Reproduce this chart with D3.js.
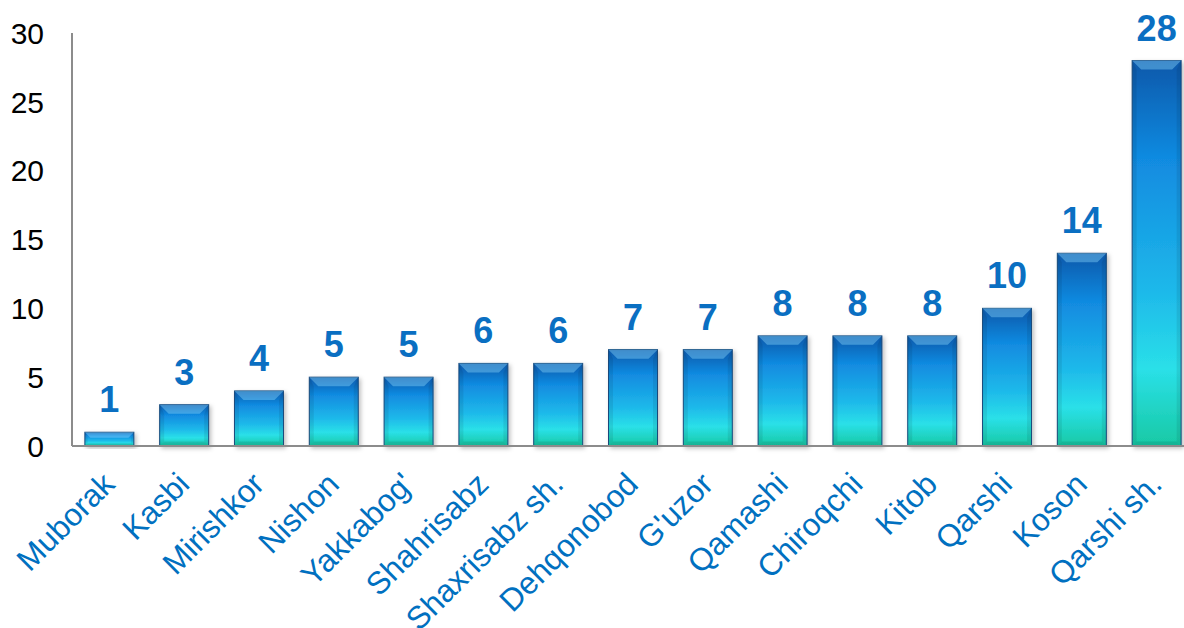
<!DOCTYPE html>
<html>
<head>
<meta charset="utf-8">
<script src="https://cdn.jsdelivr.net/npm/d3@7"></script>
<style>
  html, body { margin: 0; padding: 0; background: #fff; }
  svg { display: block; font-family: "Liberation Sans", Arial, sans-serif; }
</style>
</head>
<body>
<svg id="chart" width="1184" height="628"></svg>
<script>
// districts, sorted as in the source chart
const districts = [
  "Muborak", "Kasbi", "Mirishkor", "Nishon", "Yakkabog'", "Shahrisabz",
  "Shaxrisabz sh.", "Dehqonobod", "G'uzor", "Qamashi", "Chiroqchi",
  "Kitob", "Qarshi", "Koson", "Qarshi sh."
];
const counts = [1, 3, 4, 5, 5, 6, 6, 7, 7, 8, 8, 8, 10, 14, 28];
const yTicks = [0, 5, 10, 15, 20, 25, 30];

const svg = d3.select("#chart");
const plotLeft = 72, plotRight = 1194, plotTop = 33, plotBottom = 446;

const x = d3.scaleBand().domain(districts).range([plotLeft, plotRight]).paddingInner(0.345).paddingOuter(0.172);
const y = d3.scaleLinear().domain([0, 30]).range([plotBottom, plotTop]);

const defs = svg.append("defs");
const grad = defs.append("linearGradient")
  .attr("id", "barFill").attr("x1", 0).attr("y1", 0).attr("x2", 0).attr("y2", 1);
[
  [0, "#0a58aa"], [0.25, "#118ae0"], [0.6, "#1eb9ea"],
  [0.8, "#2ae0e8"], [1, "#18c9a4"]
].forEach(([o, c]) => grad.append("stop").attr("offset", o).attr("stop-color", c));

const shadow = defs.append("filter").attr("id", "shadow")
  .attr("x", "-20%").attr("y", "-20%").attr("width", "140%").attr("height", "140%");
shadow.append("feDropShadow").attr("dx", 2).attr("dy", 2).attr("stdDeviation", 2)
  .attr("flood-color", "#000").attr("flood-opacity", 0.25);

// y axis labels
svg.append("g").selectAll("text").data(yTicks).join("text")
  .attr("x", 44).attr("y", d => y(d)).attr("dy", "0.36em")
  .attr("text-anchor", "end").attr("font-size", 30).attr("fill", "#000")
  .text(d => d);

// bars
const bars = svg.append("g").selectAll("g").data(districts).join("g");
const bw = x.bandwidth();

bars.append("rect")
  .attr("x", d => x(d)).attr("y", (d, i) => y(counts[i]))
  .attr("width", bw).attr("height", (d, i) => plotBottom - y(counts[i]))
  .attr("fill", "url(#barFill)").attr("stroke", "#1b4d80").attr("stroke-width", 1)
  .attr("filter", "url(#shadow)");

// bevel overlays
function bevel(d, i) {
  const x0 = x(d), x1 = x0 + bw, y0 = y(counts[i]), y1 = plotBottom;
  const b = Math.min(9, (y1 - y0) / 2.5);
  return { x0, x1, y0, y1, b };
}
bars.append("path").attr("fill", "#8fdcff").attr("fill-opacity", 0.4)
  .attr("d", (d, i) => { const p = bevel(d, i);
    return `M${p.x0},${p.y0}L${p.x1},${p.y0}L${p.x1 - p.b},${p.y0 + p.b}L${p.x0 + p.b},${p.y0 + p.b}Z`; });
bars.append("path").attr("fill", "#000").attr("fill-opacity", 0.08)
  .attr("d", (d, i) => { const p = bevel(d, i);
    return `M${p.x0},${p.y0}L${p.x0 + p.b * 0.5},${p.y0 + p.b}L${p.x0 + p.b * 0.5},${p.y1 - p.b * 0.5}L${p.x0},${p.y1}Z` +
      `M${p.x1},${p.y0}L${p.x1 - p.b * 0.5},${p.y0 + p.b}L${p.x1 - p.b * 0.5},${p.y1 - p.b * 0.5}L${p.x1},${p.y1}Z`; });
bars.append("path").attr("fill", "#000").attr("fill-opacity", 0.1)
  .attr("d", (d, i) => { const p = bevel(d, i);
    return `M${p.x0},${p.y1}L${p.x1},${p.y1}L${p.x1 - p.b * 0.5},${p.y1 - p.b * 0.5}L${p.x0 + p.b * 0.5},${p.y1 - p.b * 0.5}Z`; });

// value labels
bars.append("text")
  .attr("x", d => x(d) + bw / 2).attr("y", (d, i) => y(counts[i]) - 20)
  .attr("text-anchor", "middle").attr("font-size", 36).attr("font-weight", "bold")
  .attr("fill", "#0a6fc2").text((d, i) => counts[i]);

// axis lines
svg.append("line").attr("x1", plotLeft).attr("x2", plotLeft).attr("y1", plotTop).attr("y2", plotBottom)
  .attr("stroke", "#8c8c8c").attr("stroke-width", 2);
svg.append("line").attr("x1", plotLeft).attr("x2", plotRight).attr("y1", plotBottom).attr("y2", plotBottom)
  .attr("stroke", "#8c8c8c").attr("stroke-width", 2);

// category labels
svg.append("g").selectAll("text").data(districts).join("text")
  .attr("transform", d => `translate(${x(d) + bw / 2 + 7},${plotBottom + 40}) rotate(-45)`)
  .attr("text-anchor", "end").attr("font-size", 31.5).attr("fill", "#0070c0")
  .text(d => d);
</script>
</body>
</html>
